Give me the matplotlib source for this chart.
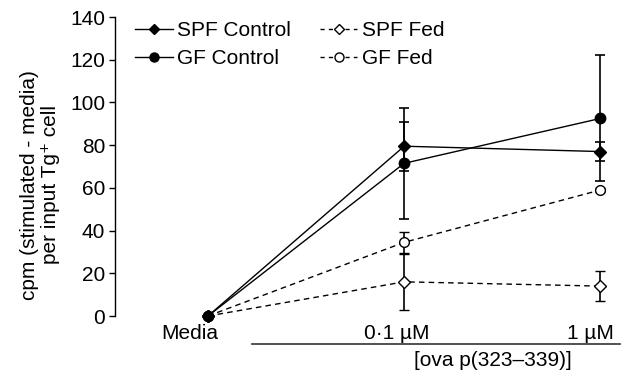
import matplotlib
matplotlib.use("Agg")
import matplotlib.pyplot as plt
import matplotlib.transforms as mtransforms
from matplotlib.lines import Line2D

plt.rcParams['font.family'] = ['Liberation Sans', 'DejaVu Sans']

# data
doses = ['Media', '0\u00b71 \u00b5M', '1 \u00b5M']
x = [0, 1, 2]

spf_ctrl = [0, 79.5, 77]
spf_ctrl_err = [0, 11.5, 4.5]
gf_ctrl = [0, 71.5, 92.5]
gf_ctrl_err = [0, 26, 29.5]
spf_fed = [0, 16, 14]
spf_fed_err = [0, 13, 7]
gf_fed = [0, 34.5, 59]
gf_fed_err = [0, 5, 1]

y_ticks = [0, 20, 40, 60, 80, 100, 120, 140]

fs = 15

fig = plt.figure(figsize=(6.24, 3.77), dpi=100)
ax = fig.add_axes([0.1843, 0.1618, 0.8093, 0.7931])

lw = 1.0
common = dict(color='black', lw=lw, elinewidth=1.2, capsize=3.5,
              capthick=1.2, clip_on=False)

ax.errorbar(x, spf_fed, yerr=spf_fed_err, fmt='--D', ms=6.5, mfc='white',
            mec='black', mew=1.0, dashes=(4, 3), zorder=3, **common)
ax.errorbar(x, gf_fed, yerr=gf_fed_err, fmt='--o', ms=7, mfc='white',
            mec='black', mew=1.0, dashes=(4, 3), zorder=3, **common)
ax.errorbar(x, gf_ctrl, yerr=gf_ctrl_err, fmt='-o', ms=7.5, mfc='black',
            mec='black', zorder=4, **common)
ax.errorbar(x, spf_ctrl, yerr=spf_ctrl_err, fmt='-D', ms=6.5, mfc='black',
            mec='black', zorder=5, **common)

ax.set_xlim(-0.474, 2.1)
ax.set_ylim(0, 140)
ax.set_yticks(y_ticks)
ax.tick_params(axis='y', direction='out', length=4, width=1, labelsize=fs, pad=3)
ax.set_xticks(x)
ax.set_xticklabels(doses, fontsize=fs)
ax.tick_params(axis='x', length=0, pad=6)
offs = [-18, -7, -10]
for lab, dx in zip(ax.get_xticklabels(), offs):
    lab.set_transform(lab.get_transform() +
                      mtransforms.ScaledTranslation(dx / 100, 0, fig.dpi_scale_trans))

for s in ['top', 'right', 'bottom']:
    ax.spines[s].set_visible(False)
ax.spines['left'].set_linewidth(1)

# underline and label for the dose axis
trans = mtransforms.blended_transform_factory(ax.transData, ax.transAxes)
ax.plot([0.224, 2.1], [-0.094, -0.094], color='#333333', lw=1.2,
        transform=trans, clip_on=False)
ax.text(1.45, -0.15, '[ova p(323\u2013339)]', transform=trans,
        ha='center', va='center', fontsize=fs)

fig.text(40 / 624, 1 - 185 / 377,
         'cpm (stimulated - media)\nper input Tg\u207a cell',
         rotation=90, ha='center', va='center', fontsize=fs,
         multialignment='center', linespacing=1.15)

handles = [
    Line2D([], [], color='black', lw=lw, marker='D', ms=5.5, mfc='black'),
    Line2D([], [], color='black', lw=lw, marker='o', ms=6.5, mfc='black'),
    Line2D([], [], color='black', lw=lw, ls='--', dashes=(3, 3), marker='D',
           ms=5.5, mfc='white', mew=1.0),
    Line2D([], [], color='black', lw=lw, ls='--', dashes=(3, 3), marker='o',
           ms=6.5, mfc='white', mew=1.0),
]
labels = ['SPF Control', 'GF Control', 'SPF Fed', 'GF Fed']
ax.legend(handles, labels, ncol=2, loc='upper left',
          bbox_to_anchor=(0.04, 0.985), frameon=False, fontsize=fs,
          handlelength=1.8, handletextpad=0.2, columnspacing=1.4,
          borderpad=0, borderaxespad=0, labelspacing=0.42)

fig.savefig('out.png', dpi=100)
